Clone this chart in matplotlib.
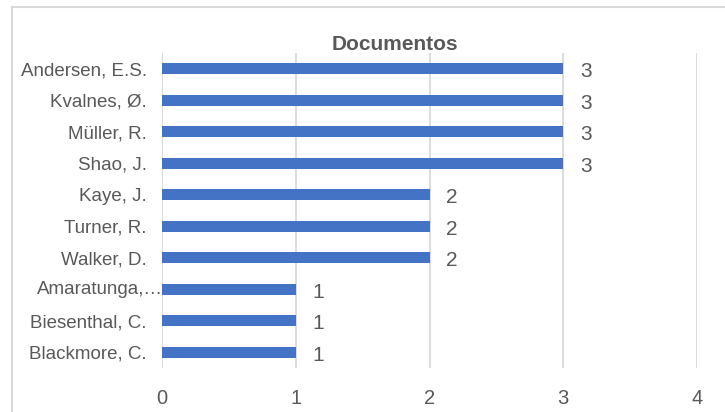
import matplotlib.pyplot as plt
from matplotlib.lines import Line2D

plt.rcParams['font.family'] = ['Liberation Sans', 'DejaVu Sans']

autores = ['Andersen, E.S.', 'Kvalnes, Ø.', 'Müller, R.', 'Shao, J.', 'Kaye, J.',
           'Turner, R.', 'Walker, D.', 'Amaratunga,…', 'Biesenthal, C.', 'Blackmore, C.']
documentos = [3, 3, 3, 3, 2, 2, 2, 1, 1, 1]
x_ticks = [0, 1, 2, 3, 4]

texto = '#595959'
azul = '#4472C4'
grade = '#D9D9D9'

fig = plt.figure(figsize=(7.25, 4.12), dpi=100)
ax = fig.add_axes([162 / 725, 1 - 368 / 412, (697 - 162) / 725, (368 - 53) / 412])

pos = list(range(len(autores)))[::-1]
ax.barh(pos, documentos, height=0.34, color=azul, zorder=3)

for y, v in zip(pos, documentos):
    ax.annotate(str(v), (v, y), xytext=(12, -2), textcoords='offset points',
                ha='left', va='center', fontsize=15, color=texto)

ax.set_xlim(0, 4)
ax.set_ylim(-0.5, len(autores) - 0.5)
ax.set_xticks(x_ticks)
ax.set_yticks(pos)
# rótulo truncado encosta no eixo, como no Excel
rotulos = [a if not a.endswith('…') else '' for a in autores]
ax.set_yticklabels(rotulos)
for y, a in zip(pos, autores):
    if a.endswith('…'):
        ax.annotate(a, (0, y), xytext=(1, 0), textcoords='offset points',
                    ha='right', va='center', fontsize=13.5, color=texto)
ax.tick_params(axis='x', length=0, pad=15, labelsize=14.5, labelcolor=texto)
ax.tick_params(axis='y', length=0, pad=11, labelsize=13.5, labelcolor=texto)
ax.grid(axis='x', color=grade, linewidth=1.3, zorder=0)
for s in ax.spines.values():
    s.set_visible(False)

fig.text(395 / 725, 1 - 45 / 412, 'Documentos', ha='center', va='center',
         fontsize=15, fontweight='bold', color=texto)

# borda do gráfico (parcialmente visível)
fig.add_artist(Line2D([12 / 725, 1], [1 - 7 / 412, 1 - 7 / 412], color=grade, lw=1.5))
fig.add_artist(Line2D([12 / 725, 12 / 725], [0, 1 - 7 / 412], color=grade, lw=1.5))

fig.savefig('out.png', dpi=100)
